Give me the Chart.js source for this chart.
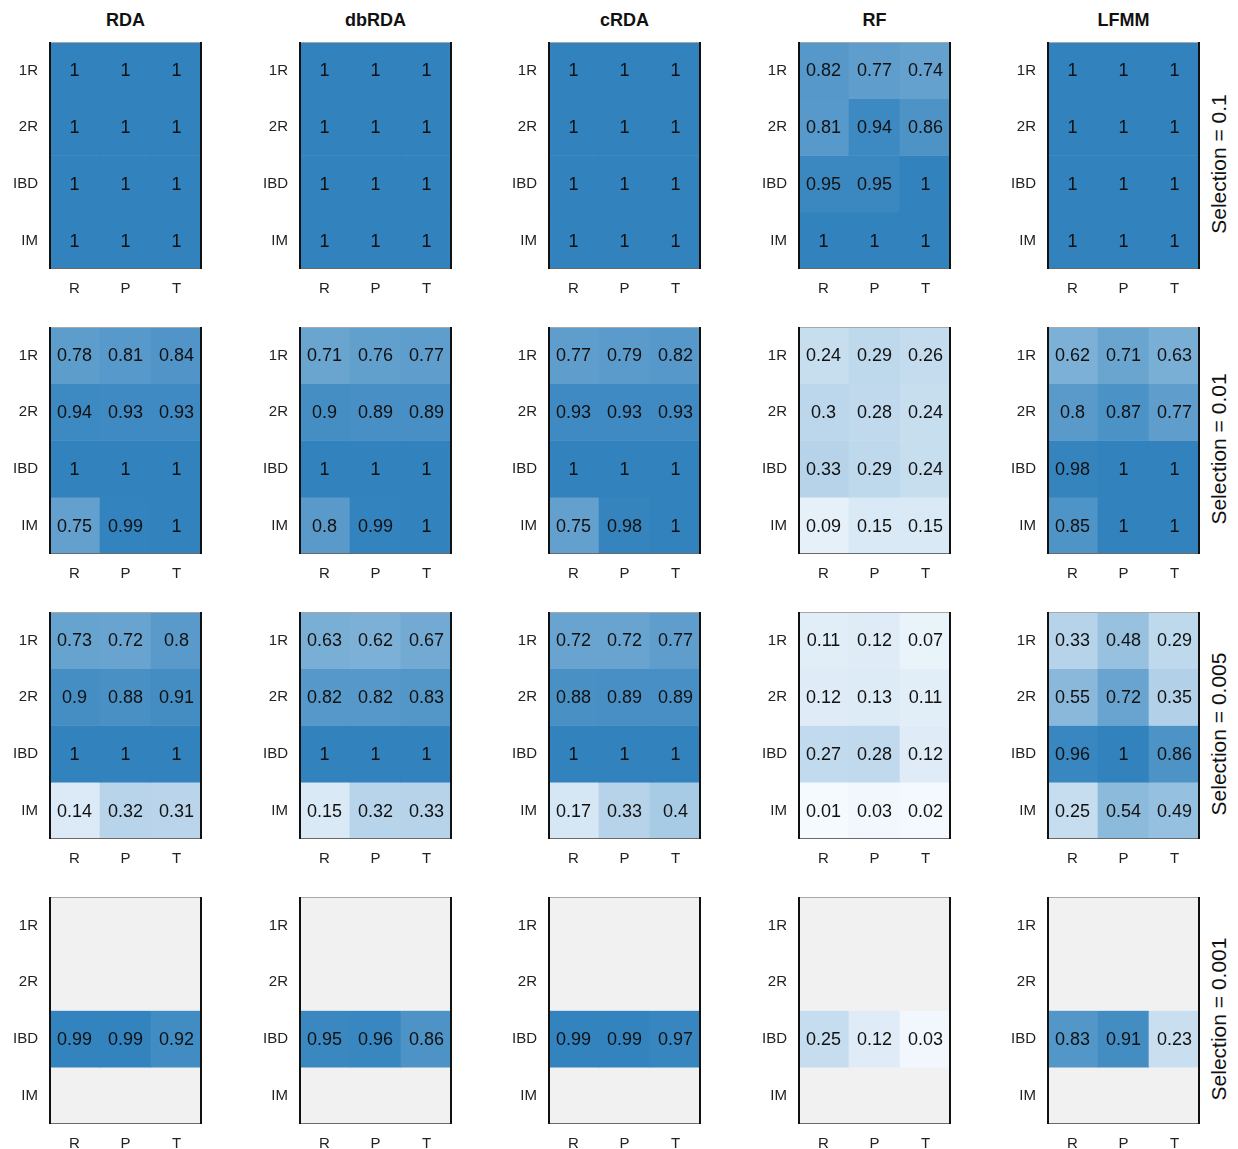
<!DOCTYPE html>
<html>
<head>
<meta charset="utf-8">
<script src="https://cdn.jsdelivr.net/npm/chart.js@4.4.1/dist/chart.umd.min.js"></script>
<style>
  html, body { margin: 0; padding: 0; background: #fff; }
  #wrap { position: relative; width: 1238px; height: 1149px; font-family: "Liberation Sans", Arial, sans-serif; overflow: hidden; }
  #wrap canvas { position: absolute; }
  .ttl { position: absolute; width: 200px; text-align: center; font-weight: bold; font-size: 18px; line-height: 20px; color: #111; }
  .strip { position: absolute; font-size: 21px; line-height: 24px; color: #111; white-space: nowrap;
           transform: translate(-50%, -50%) rotate(-90deg); }
</style>
</head>
<body>
<div id="wrap"></div>
<script>
// Facets and cell categories
const methods = ['RDA', 'dbRDA', 'cRDA', 'RF', 'LFMM'];
const selections = ['0.1', '0.01', '0.005', '0.001'];
const rowLabels = ['1R', '2R', 'IBD', 'IM'];
const colLabels = ['R', 'P', 'T'];

// Detection rates per panel, row-major: 1R, 2R, IBD, IM  x  R, P, T  (null = no value)
const rda_01    = [1, 1, 1,  1, 1, 1,  1, 1, 1,  1, 1, 1];
const dbrda_01  = [1, 1, 1,  1, 1, 1,  1, 1, 1,  1, 1, 1];
const crda_01   = [1, 1, 1,  1, 1, 1,  1, 1, 1,  1, 1, 1];
const rf_01     = [0.82, 0.77, 0.74,  0.81, 0.94, 0.86,  0.95, 0.95, 1,  1, 1, 1];
const lfmm_01   = [1, 1, 1,  1, 1, 1,  1, 1, 1,  1, 1, 1];

const rda_001   = [0.78, 0.81, 0.84,  0.94, 0.93, 0.93,  1, 1, 1,  0.75, 0.99, 1];
const dbrda_001 = [0.71, 0.76, 0.77,  0.9, 0.89, 0.89,  1, 1, 1,  0.8, 0.99, 1];
const crda_001  = [0.77, 0.79, 0.82,  0.93, 0.93, 0.93,  1, 1, 1,  0.75, 0.98, 1];
const rf_001    = [0.24, 0.29, 0.26,  0.3, 0.28, 0.24,  0.33, 0.29, 0.24,  0.09, 0.15, 0.15];
const lfmm_001  = [0.62, 0.71, 0.63,  0.8, 0.87, 0.77,  0.98, 1, 1,  0.85, 1, 1];

const rda_0005   = [0.73, 0.72, 0.8,  0.9, 0.88, 0.91,  1, 1, 1,  0.14, 0.32, 0.31];
const dbrda_0005 = [0.63, 0.62, 0.67,  0.82, 0.82, 0.83,  1, 1, 1,  0.15, 0.32, 0.33];
const crda_0005  = [0.72, 0.72, 0.77,  0.88, 0.89, 0.89,  1, 1, 1,  0.17, 0.33, 0.4];
const rf_0005    = [0.11, 0.12, 0.07,  0.12, 0.13, 0.11,  0.27, 0.28, 0.12,  0.01, 0.03, 0.02];
const lfmm_0005  = [0.33, 0.48, 0.29,  0.55, 0.72, 0.35,  0.96, 1, 0.86,  0.25, 0.54, 0.49];

const rda_0001   = [null, null, null,  null, null, null,  0.99, 0.99, 0.92,  null, null, null];
const dbrda_0001 = [null, null, null,  null, null, null,  0.95, 0.96, 0.86,  null, null, null];
const crda_0001  = [null, null, null,  null, null, null,  0.99, 0.99, 0.97,  null, null, null];
const rf_0001    = [null, null, null,  null, null, null,  0.25, 0.12, 0.03,  null, null, null];
const lfmm_0001  = [null, null, null,  null, null, null,  0.83, 0.91, 0.23,  null, null, null];

const panels = [
  [rda_01,   dbrda_01,   crda_01,   rf_01,   lfmm_01],
  [rda_001,  dbrda_001,  crda_001,  rf_001,  lfmm_001],
  [rda_0005, dbrda_0005, crda_0005, rf_0005, lfmm_0005],
  [rda_0001, dbrda_0001, crda_0001, rf_0001, lfmm_0001]
];

// ---- colour ramp: pale to steel blue, linear in RGB ----
const LOW = [247, 251, 255], HIGH = [49, 130, 189], NA_COLOR = '#f1f1f1';
function fillFor(v) {
  if (v === null) return NA_COLOR;
  const t = Math.max(0, Math.min(1, v));
  const c = LOW.map((a, i) => Math.round(a + (HIGH[i] - a) * t));
  return `rgb(${c[0]},${c[1]},${c[2]})`;
}

// ---- layout ----
const FONT = '"Liberation Sans", Arial, sans-serif';
const PANEL_W = 153, PANEL_H = 227;
const AXIS_W = 49, AXIS_H = 32, PAD_T = 2, PAD_R = 3;
const panelLeft = c => Math.round(49 + c * 249.5);
const panelTop = r => 42 + r * 285;
const wrap = document.getElementById('wrap');

// value text in each cell
const cellText = {
  id: 'cellText',
  afterDatasetsDraw(chart) {
    const ctx = chart.ctx;
    ctx.save();
    ctx.font = `18px ${FONT}`;
    ctx.fillStyle = '#111';
    ctx.textAlign = 'center';
    ctx.textBaseline = 'middle';
    chart.data.datasets.forEach((ds, i) => {
      chart.getDatasetMeta(i).data.forEach((bar, j) => {
        const v = ds.values[j];
        if (v === null) return;
        ctx.fillText(String(v), bar.x, (bar.y + bar.base) / 2 + 1);
      });
    });
    ctx.restore();
  }
};

// panel frame: dark sides, thin grey top/bottom
const frame = {
  id: 'frame',
  afterDraw(chart) {
    const { left, right, top, bottom } = chart.chartArea;
    const ctx = chart.ctx;
    ctx.save();
    ctx.fillStyle = '#a8a8a8';
    ctx.fillRect(left, top, right - left, 1);
    ctx.fillStyle = '#6a6a6a';
    ctx.fillRect(left, bottom - 1, right - left, 1);
    ctx.fillStyle = '#111';
    ctx.fillRect(left, top, 2, bottom - top);
    ctx.fillRect(right - 2, top, 2, bottom - top);
    ctx.restore();
  }
};

function drawPanel(r, c) {
  const values = panels[r][c];
  const cv = document.createElement('canvas');
  cv.width = AXIS_W + PANEL_W + PAD_R;
  cv.height = PAD_T + PANEL_H + AXIS_H;
  cv.style.left = (panelLeft(c) - AXIS_W) + 'px';
  cv.style.top = (panelTop(r) - PAD_T) + 'px';
  wrap.appendChild(cv);

  const datasets = rowLabels.map((row, i) => {
    const rowVals = colLabels.map((col, j) => values[i * colLabels.length + j]);
    return {
      label: row,
      values: rowVals,
      data: rowVals.map(() => [i, i + 1]),
      backgroundColor: rowVals.map(fillFor),
      borderWidth: 0,
      grouped: false,
      barPercentage: 1,
      categoryPercentage: 1
    };
  });

  new Chart(cv, {
    type: 'bar',
    data: { labels: colLabels, datasets },
    options: {
      responsive: false,
      animation: false,
      events: [],
      layout: { padding: { top: PAD_T, right: PAD_R, left: 0, bottom: 0 } },
      plugins: { legend: { display: false }, tooltip: { enabled: false }, title: { display: false } },
      scales: {
        x: {
          type: 'category',
          offset: true,
          grid: { display: false, drawTicks: false },
          border: { display: false },
          ticks: { padding: 11, maxRotation: 0, font: { family: FONT, size: 15 }, color: '#222' },
          afterFit(s) { s.height = AXIS_H; s.paddingLeft = 0; s.paddingRight = 0; }
        },
        y: {
          type: 'linear',
          min: 0, max: rowLabels.length,
          reverse: true,
          grid: { display: false, drawTicks: false },
          border: { display: false },
          afterBuildTicks(s) { s.ticks = rowLabels.map((_, i) => ({ value: i + 0.5 })); },
          ticks: { padding: 11, font: { family: FONT, size: 15 }, color: '#222',
                   callback: (v, idx) => rowLabels[idx] },
          afterFit(s) { s.width = AXIS_W; s.paddingTop = 0; s.paddingBottom = 0; }
        }
      }
    },
    plugins: [cellText, frame]
  });
}

for (let r = 0; r < selections.length; r++)
  for (let c = 0; c < methods.length; c++) drawPanel(r, c);

// column titles
methods.forEach((m, c) => {
  const d = document.createElement('div');
  d.className = 'ttl';
  d.textContent = m;
  d.style.left = (panelLeft(c) + PANEL_W / 2 - 100) + 'px';
  d.style.top = '10px';
  wrap.appendChild(d);
});

// row strips
selections.forEach((s, r) => {
  const d = document.createElement('div');
  d.className = 'strip';
  d.textContent = 'Selection = ' + s;
  d.style.left = '1219px';
  d.style.top = (panelTop(r) + PANEL_H / 2 + 8) + 'px';
  wrap.appendChild(d);
});
</script>
</body>
</html>
